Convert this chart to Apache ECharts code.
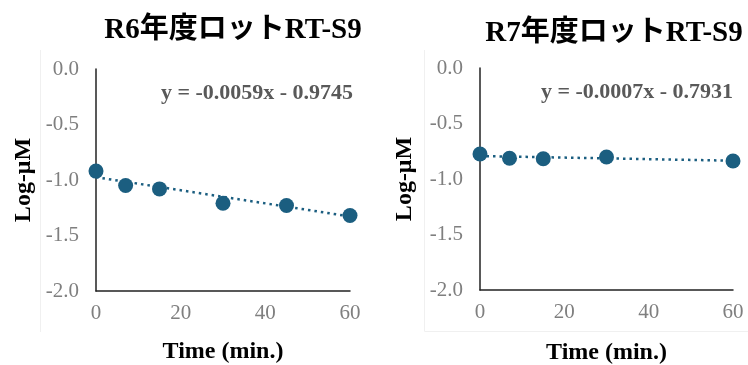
<!DOCTYPE html>
<html>
<head>
<meta charset="utf-8">
<script src="https://cdn.jsdelivr.net/npm/echarts@6/dist/echarts.min.js"></script>
<style>
html, body { margin: 0; padding: 0; background: #fff; }
#chart { width: 748px; height: 365px; }
</style>
</head>
<body>
<div id="chart"></div>
<script>
// data
var titles = ['R6年度ロットRT-S9', 'R7年度ロットRT-S9'];
var equations = ['y = -0.0059x - 0.9745', 'y = -0.0007x - 0.7931'];

var timeR6 = [0, 7, 15, 30, 45, 60];
var logR6 = [-0.92, -1.05, -1.08, -1.21, -1.23, -1.32];
var errR6 = [0.01, 0.01, 0.01, 0.015, 0.03, 0.04];
var trendR6 = [[0, -0.9745], [60, -1.3285]];

var timeR7 = [0, 7, 15, 30, 60];
var logR7 = [-0.775, -0.813, -0.817, -0.802, -0.838];
var errR7 = [0.01, 0.01, 0.01, 0.01, 0.01];
var trendR7 = [[0, -0.7931], [60, -0.8351]];

var xTicks = [0, 20, 40, 60];
var yTicks = [0.0, -0.5, -1.0, -1.5, -2.0];

var mainColor = '#1b5e80';
var serif = '"Liberation Serif", "Times New Roman", "Noto Sans CJK JP", serif';

var chart = echarts.init(document.getElementById('chart'));

function points(xs, ys) {
    return xs.map(function (x, i) { return [x, ys[i]]; });
}
function errData(xs, ys, es) {
    return xs.map(function (x, i) { return [x, ys[i] - es[i], ys[i] + es[i]]; });
}

function renderErr(params, api) {
    var x = api.value(0);
    var lo = api.coord([x, api.value(1)]);
    var hi = api.coord([x, api.value(2)]);
    var w = 3;
    var st = { stroke: '#7f7f7f', lineWidth: 1 };
    return {
        type: 'group',
        children: [
            { type: 'line', shape: { x1: lo[0], y1: lo[1], x2: hi[0], y2: hi[1] }, style: st },
            { type: 'line', shape: { x1: lo[0] - w, y1: lo[1], x2: lo[0] + w, y2: lo[1] }, style: st },
            { type: 'line', shape: { x1: hi[0] - w, y1: hi[1], x2: hi[0] + w, y2: hi[1] }, style: st }
        ]
    };
}

function xAxisOf(idx, gap) {
    return {
        gridIndex: idx,
        type: 'value',
        min: 0, max: 60, interval: 20,
        data: xTicks,
        name: 'Time (min.)',
        nameLocation: 'middle',
        nameGap: gap,
        nameTextStyle: { fontFamily: serif, fontWeight: 'bold', fontSize: 24, color: '#000' },
        axisLine: { onZero: false, lineStyle: { color: '#222', width: 1.5 } },
        axisTick: { show: false },
        splitLine: { show: false },
        axisLabel: { fontFamily: serif, fontSize: 21, color: '#7f7f7f', margin: 12 }
    };
}
function yAxisOf(idx, gap) {
    return {
        gridIndex: idx,
        type: 'value',
        min: -2, max: 0, interval: 0.5,
        name: 'Log-μM',
        nameLocation: 'middle',
        nameGap: gap,
        nameTextStyle: { fontFamily: serif, fontWeight: 'bold', fontSize: 24, color: '#000' },
        axisLine: { show: true, onZero: false, lineStyle: { color: '#222', width: 1.5 } },
        axisTick: { show: false },
        splitLine: { show: false },
        axisLabel: {
            fontFamily: serif, fontSize: 21, color: '#7f7f7f', margin: 17,
            formatter: function (v) { return v.toFixed(1); }
        }
    };
}

function seriesOf(idx, xs, ys, es, trend) {
    return [
        {
            type: 'line', xAxisIndex: idx, yAxisIndex: idx,
            data: trend, showSymbol: false, silent: true,
            lineStyle: { color: mainColor, width: 2.5, type: [2.5, 4] },
            z: 2
        },
        {
            type: 'custom', xAxisIndex: idx, yAxisIndex: idx,
            data: errData(xs, ys, es), renderItem: renderErr, z: 3
        },
        {
            type: 'scatter', xAxisIndex: idx, yAxisIndex: idx,
            data: points(xs, ys), symbolSize: 15,
            itemStyle: { color: mainColor, opacity: 1 },
            z: 4
        }
    ];
}

var option = {
    animation: false,
    title: [
        { text: titles[0], left: 228, top: 11, textAlign: 'center',
          textStyle: { fontFamily: serif, fontWeight: 'bold', fontSize: 29, color: '#000' } },
        { text: titles[1], left: 609, top: 14, textAlign: 'center',
          textStyle: { fontFamily: serif, fontWeight: 'bold', fontSize: 29, color: '#000' } },
        { text: equations[0], left: 252, top: 77, textAlign: 'center',
          textStyle: { fontFamily: serif, fontWeight: 'bold', fontSize: 22, color: '#595959' } },
        { text: equations[1], left: 632, top: 76, textAlign: 'center',
          textStyle: { fontFamily: serif, fontWeight: 'bold', fontSize: 22, color: '#595959' } }
    ],
    graphic: [
        { type: 'line', shape: { x1: 40.5, y1: 50, x2: 40.5, y2: 332 }, style: { stroke: '#f0f0f0', lineWidth: 1 }, silent: true },
        { type: 'polyline', shape: { points: [[424.5, 50], [424.5, 331.5], [748, 331.5]] }, style: { stroke: '#f0f0f0', lineWidth: 1, fill: null }, silent: true }
    ],
    grid: [
        { left: 96, right: 398, top: 69, bottom: 74, containLabel: false, outerBoundsMode: 'none' },
        { left: 480, right: 15, top: 68, bottom: 75, containLabel: false, outerBoundsMode: 'none' }
    ],
    xAxis: [xAxisOf(0, 49), xAxisOf(1, 51)],
    yAxis: [yAxisOf(0, 60), yAxisOf(1, 63)],
    series: seriesOf(0, timeR6, logR6, errR6, trendR6).concat(seriesOf(1, timeR7, logR7, errR7, trendR7))
};

chart.setOption(option);
</script>
</body>
</html>
